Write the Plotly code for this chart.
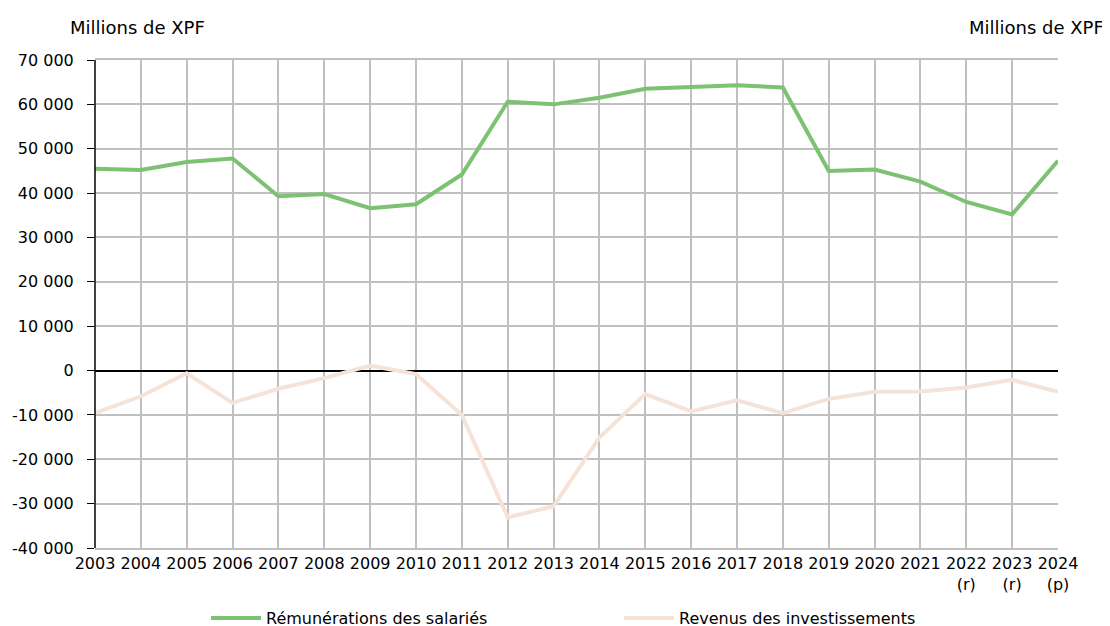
import plotly.graph_objects as go

years = ["2003", "2004", "2005", "2006", "2007", "2008", "2009", "2010", "2011", "2012",
         "2013", "2014", "2015", "2016", "2017", "2018", "2019", "2020", "2021",
         "2022<br>(r)", "2023<br>(r)", "2024<br>(p)"]
remunerations = [45500, 45200, 47000, 47800, 39300, 39800, 36600, 37500, 44200, 60600,
                 60000, 61500, 63500, 64000, 64300, 63800, 45000, 45300, 42600,
                 38000, 35200, 47300]
revenus = [-9600, -5800, -600, -7300, -4100, -1700, 1100, -800, -10000, -33100,
           -30600, -15100, -5300, -9200, -6700, -9600, -6400, -4800, -4700,
           -3800, -2100, -4800]
ytick_vals = list(range(-40000, 70001, 10000))
ytick_text = [f"{v:,}".replace(",", " ") for v in ytick_vals]

FONT = "Tahoma, DejaVu Sans, sans-serif"
xs = list(range(len(years)))

fig = go.Figure()
fig.add_trace(go.Scatter(x=xs, y=remunerations, mode="lines", name="Rémunérations des salariés",
                         line=dict(color="#7DC173", width=4)))
fig.add_trace(go.Scatter(x=xs, y=revenus, mode="lines", name="Revenus des investissements",
                         line=dict(color="#F5E3D8", width=4)))

fig.update_layout(
    width=1110, height=626,
    margin=dict(l=87, r=60, t=52, b=86, autoexpand=False),
    paper_bgcolor="white", plot_bgcolor="white",
    font=dict(family=FONT, size=16, color="#000000"),
    showlegend=True,
    legend=dict(orientation="h", xref="container", x=198 / 1110, xanchor="left",
                yref="container", y=16 / 626, yanchor="middle",
                font=dict(size=16), entrywidth=348, entrywidthmode="pixels",
                itemwidth=50),
    annotations=[
        dict(text="Millions de XPF", xref="paper", yref="paper", x=(60 - 87) / 963, y=(540 - 20) / 488,
             xanchor="left", yanchor="middle", showarrow=False, font=dict(size=18)),
        dict(text="Millions de XPF", xref="paper", yref="paper", x=(1098 - 87) / 963, y=(540 - 20) / 488,
             xanchor="right", yanchor="middle", showarrow=False, font=dict(size=18)),
    ],
)
fig.update_xaxes(range=[0, len(years) - 1], tickvals=xs, ticktext=years,
                 showgrid=True, gridcolor="#C0C0C0", gridwidth=1.5,
                 showline=True, linecolor="#C0C0C0", linewidth=1.5, mirror=True,
                 ticks="", tickfont=dict(size=16), zeroline=False, automargin=False)
fig.update_yaxes(range=[-40000, 70000], tickvals=ytick_vals, ticktext=ytick_text,
                 showgrid=True, gridcolor="#C0C0C0", gridwidth=1.5,
                 showline=False, ticks="outside", ticklen=7, tickcolor="#000000",
                 ticklabelstandoff=10,
                 zeroline=True, zerolinecolor="#000000", zerolinewidth=1.5,
                 tickfont=dict(size=16), automargin=False)
fig.add_shape(type="line", xref="paper", yref="paper", x0=0, x1=0, y0=0, y1=1,
              line=dict(color="#000000", width=1.5), layer="above")

fig.write_html("out.html")
